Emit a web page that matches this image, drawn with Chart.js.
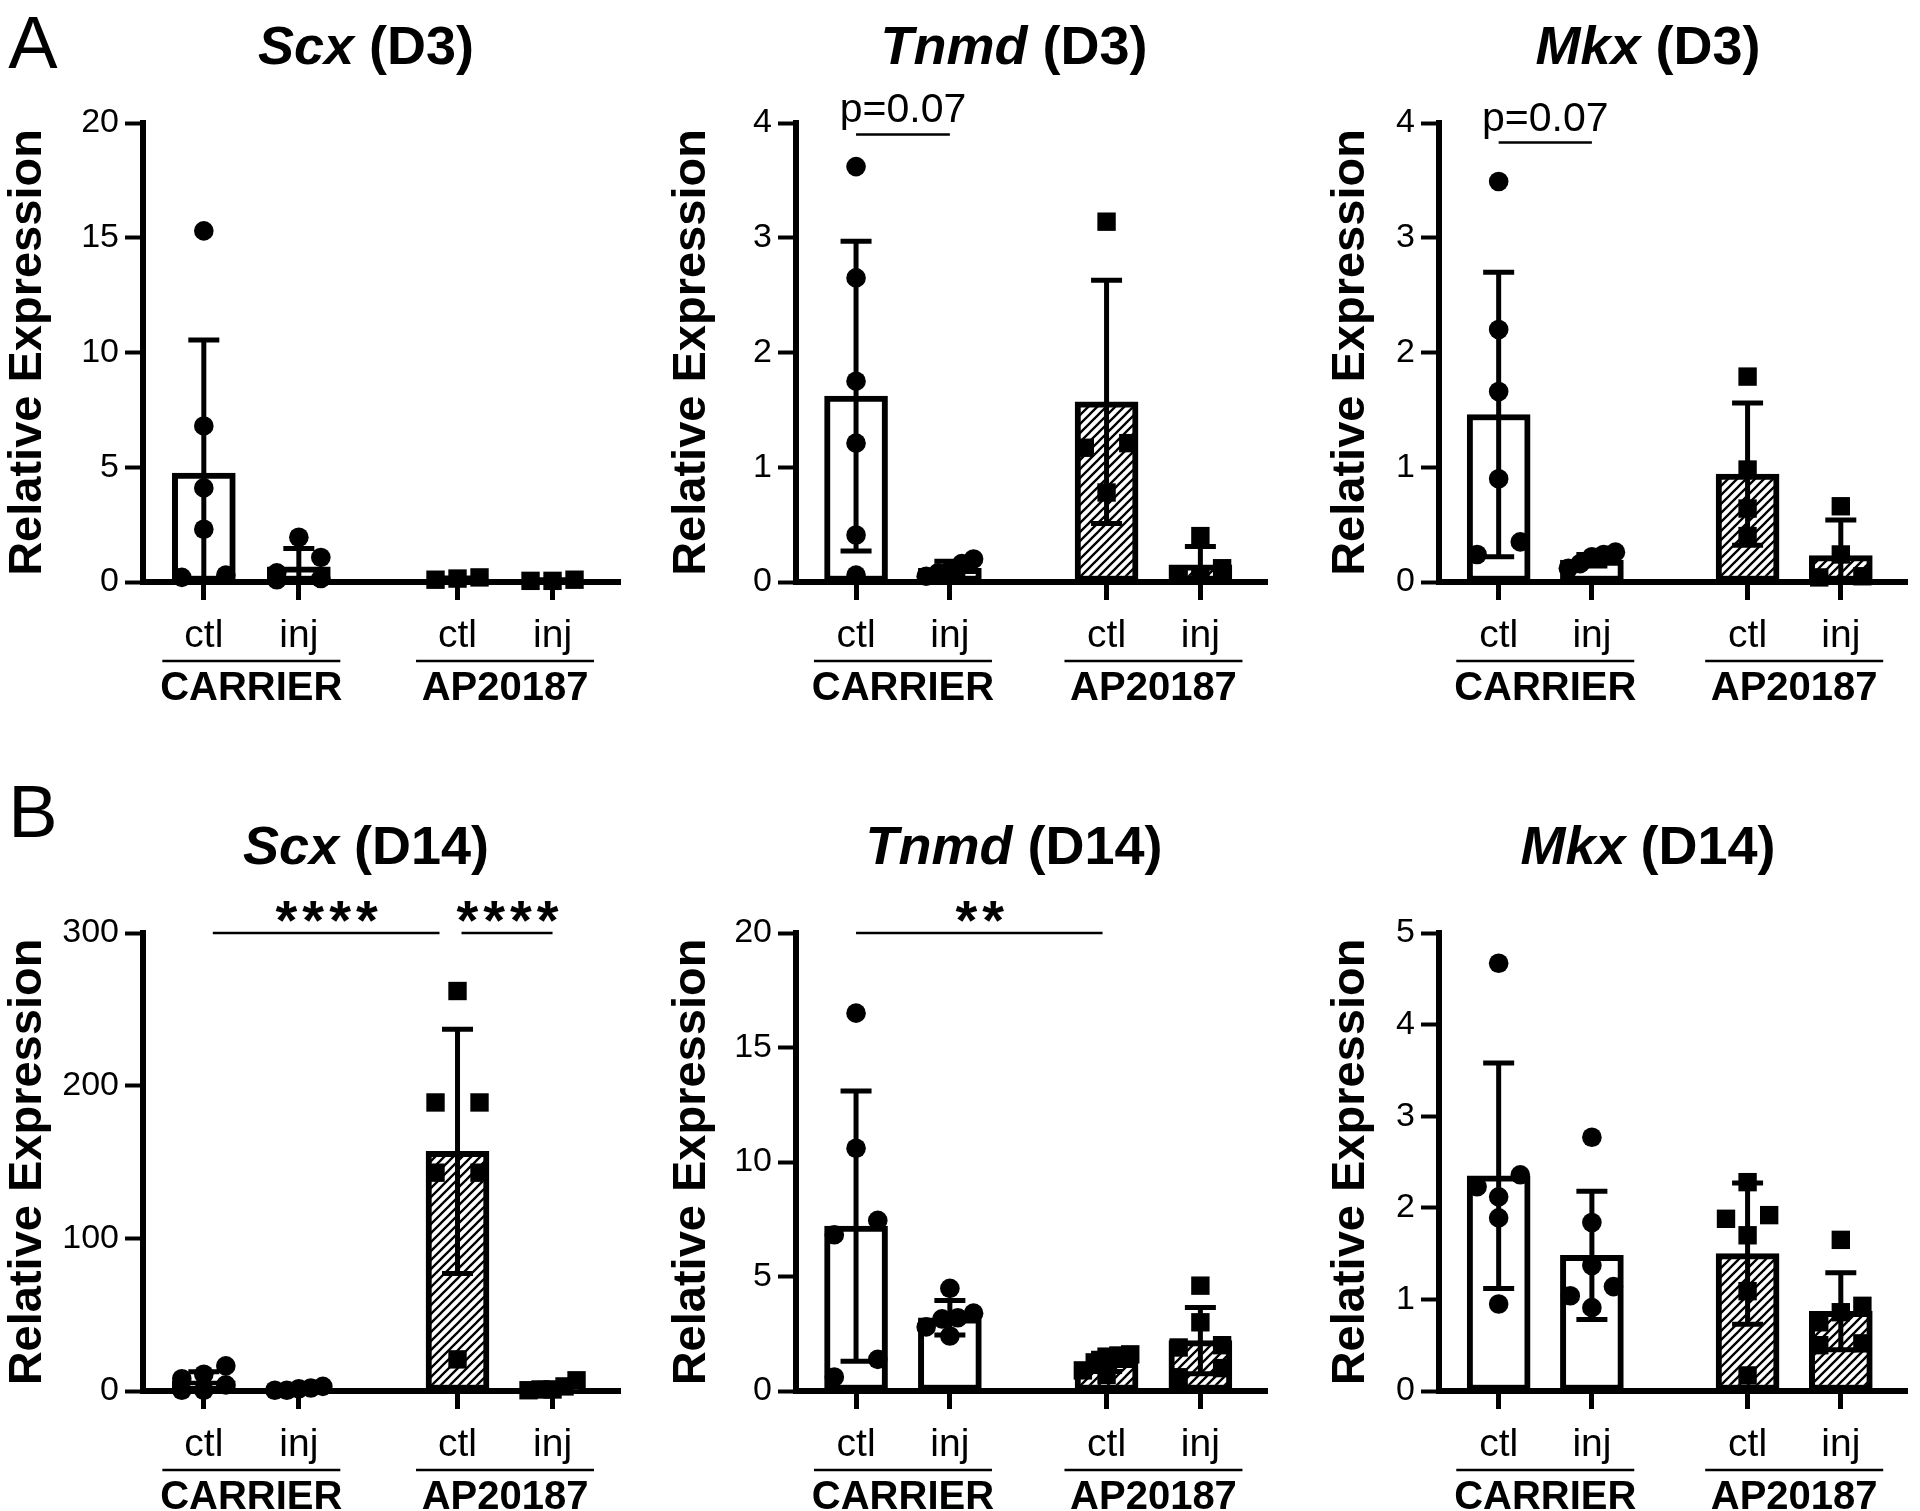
<!DOCTYPE html>
<html>
<head>
<meta charset="utf-8">
<script src="https://cdn.jsdelivr.net/npm/chart.js@4.4.0/dist/chart.umd.min.js"></script>
<style>
  html, body { margin: 0; padding: 0; background: #fff; }
  #fig { position: relative; width: 1920px; height: 1511px; overflow: hidden;
         font-family: "Liberation Sans", Arial, sans-serif; color: #000; }
  #fig canvas { position: absolute; }
  .ttl { position: absolute; font-weight: bold; font-size: 54px; white-space: nowrap;
         transform: translate(-50%, -50%); line-height: 1; }
  .letter { position: absolute; font-size: 74px; transform: translate(-50%, -50%); line-height: 1; }
</style>
</head>
<body>
<div id="fig"></div>
<script>
// ─── DATA ─────────────────────────────────────────────────────────────
const categories = ['ctl', 'inj', 'ctl', 'inj'];
const catX = [1, 2, 3.67, 4.67];
const groupNames = ['CARRIER', 'AP20187'];
const panelLetters = ['A', 'B'];

// Scx D3
const scxD3Ticks = [20, 5];
const scxD3Mean = [4.75, 0.66, 0.12, 0.07];
const scxD3Sd = [5.8, 0.8, 0.05, 0.03];
const scxD3Pts = [
  [15.3, 6.8, 4.1, 2.3, 0.3, 0.2],
  [1.95, 1.07, 0.4, 0.15, 0.1],
  [0.2, 0.15, 0.1],
  [0.1, 0.05, 0.05],
];

// Tnmd D3
const tnmdD3Ticks = [4, 1];
const tnmdD3Mean = [1.62, 0.12, 1.57, 0.15];
const tnmdD3Sd = [1.35, 0.06, 1.06, 0.16];
const tnmdD3Pts = [
  [3.62, 2.65, 1.75, 1.21, 0.41, 0.06],
  [0.2, 0.16, 0.1, 0.08, 0.05],
  [3.14, 1.21, 1.17, 0.78],
  [0.40, 0.12, 0.06, 0.06],
];
const tnmdD3Sig = [{ from: 0, to: 1, y: 3.9, text: 'p=0.07' }];

// Mkx D3
const mkxD3Ticks = [4, 1];
const mkxD3Mean = [1.46, 0.19, 0.94, 0.23];
const mkxD3Sd = [1.24, 0.05, 0.62, 0.31];
const mkxD3Pts = [
  [3.49, 2.20, 1.66, 0.90, 0.35, 0.24],
  [0.26, 0.24, 0.22, 0.16, 0.12],
  [1.79, 0.98, 0.64, 0.40],
  [0.66, 0.24, 0.05, 0.04],
];
const mkxD3Sig = [{ from: 0, to: 1, y: 3.83, text: 'p=0.07' }];

// Scx D14
const scxD14Ticks = [300, 100];
const scxD14Mean = [6.6, 1.5, 157, 2.5];
const scxD14Sd = [6.0, 1.2, 80, 2.5];
const scxD14Pts = [
  [16.5, 11, 8, 4, 0.5, 0.5],
  [3, 2, 1.5, 0.5, 0.5],
  [262, 189, 189, 143, 143, 20.7],
  [7, 3, 1, 1, 0.5],
];
const scxD14Sig = [
  { from: 0, to: 2, y: 300, text: '****', inset: [9, 18] },
  { from: 2, to: 3, y: 300, text: '****', inset: [4, 0] },
];

// Tnmd D14
const tnmdD14Ticks = [20, 5];
const tnmdD14Mean = [7.2, 3.2, 1.25, 2.2];
const tnmdD14Sd = [5.9, 0.75, 0.4, 1.45];
const tnmdD14Pts = [
  [16.5, 10.6, 7.45, 6.82, 1.38, 0.61],
  [4.48, 3.4, 3.2, 3.15, 2.8, 2.4],
  [1.6, 1.55, 1.5, 1.25, 0.9, 0.7],
  [4.6, 3.0, 2.0, 1.9, 1.0, 0.6],
];
const tnmdD14Sig = [{ from: 0, to: 2, y: 20, text: '**', inset: [0, 4] }];

// Mkx D14
const mkxD14Ticks = [5, 1];
const mkxD14Mean = [2.35, 1.48, 1.5, 0.87];
const mkxD14Sd = [1.23, 0.7, 0.77, 0.42];
const mkxD14Pts = [
  [4.67, 2.36, 2.23, 2.12, 1.89, 0.95],
  [2.77, 1.84, 1.37, 1.14, 1.04, 0.91],
  [2.28, 1.92, 1.88, 1.70, 1.09, 0.17],
  [1.65, 0.93, 0.86, 0.75, 0.52, 0.5],
];

const panels = [
  { gene: 'Scx',  day: 'D3',  row: 0, col: 0, ticks: scxD3Ticks,   mean: scxD3Mean,   sd: scxD3Sd,   pts: scxD3Pts,   sig: [] },
  { gene: 'Tnmd', day: 'D3',  row: 0, col: 1, ticks: tnmdD3Ticks,  mean: tnmdD3Mean,  sd: tnmdD3Sd,  pts: tnmdD3Pts,  sig: tnmdD3Sig },
  { gene: 'Mkx',  day: 'D3',  row: 0, col: 2, ticks: mkxD3Ticks,   mean: mkxD3Mean,   sd: mkxD3Sd,   pts: mkxD3Pts,   sig: mkxD3Sig },
  { gene: 'Scx',  day: 'D14', row: 1, col: 0, ticks: scxD14Ticks,  mean: scxD14Mean,  sd: scxD14Sd,  pts: scxD14Pts,  sig: scxD14Sig },
  { gene: 'Tnmd', day: 'D14', row: 1, col: 1, ticks: tnmdD14Ticks, mean: tnmdD14Mean, sd: tnmdD14Sd, pts: tnmdD14Pts, sig: tnmdD14Sig },
  { gene: 'Mkx',  day: 'D14', row: 1, col: 2, ticks: mkxD14Ticks,  mean: mkxD14Mean,  sd: mkxD14Sd,  pts: mkxD14Pts,  sig: [] },
];

// ─── LAYOUT ───────────────────────────────────────────────────────────
const FONT = '"Liberation Sans", Arial, sans-serif';
const COL_LEFT = [0, 640, 1280];
const COL_AXIS = [143, 796, 1439];
const ROW_TOP = [0, 755];
const ROW_H = [755, 756];
const ROW_PLOT_TOP = [123, 933];
const ROW_ZERO = [582, 1391];
const PLOT_W = 477;
const X_MIN = 0.36, X_MAX = 5.38;
const TITLE_DX = [223, 218, 209];
const TITLE_Y = [45, 845];
const LETTER_Y = [43, 812];
const YTITLE_GAP = [116, 104, 88];
const YTITLE_SIZE = 47;
const DOT = 18;       // marker size used for binning, px
const SPREAD = 22;    // half width of a spread row, px

function hatch() {
  const s = 9, c = document.createElement('canvas');
  c.width = c.height = s;
  const g = c.getContext('2d');
  g.fillStyle = '#fff';
  g.fillRect(0, 0, s, s);
  g.strokeStyle = '#000';
  g.lineWidth = 2.3;
  g.beginPath();
  g.moveTo(0, s); g.lineTo(s, 0);
  g.moveTo(-1, 1); g.lineTo(1, -1);
  g.moveTo(s - 1, s + 1); g.lineTo(s + 1, s - 1);
  g.stroke();
  return g.createPattern(c, 'repeat');
}
const HATCH = hatch();

// points that would overlap are put in one row and spread evenly, like Prism does
function swarm(values, cx, pxX, pxY) {
  const order = values.map((v, i) => i).sort((a, b) => values[b] - values[a]);
  const bins = [];
  order.forEach(i => {
    const last = bins[bins.length - 1];
    if (last && (values[last[0]] - values[i]) * pxY < DOT) last.push(i);
    else bins.push([i]);
  });
  const out = new Array(values.length);
  bins.forEach(b => {
    const n = b.length;
    const w = n <= 3 ? SPREAD : SPREAD + 2;
    b.slice().reverse().forEach((i, k) => {
      const dx = n === 1 ? 0 : -w + k * (2 * w / (n - 1));
      out[i] = { x: cx + dx / pxX, y: values[i] };
    });
  });
  return out;
}

const errorBars = {
  id: 'errorBars',
  afterDatasetsDraw(chart, args, opts) {
    const { ctx, scales: { x, y } } = chart;
    const p = opts.panel;
    ctx.save();
    ctx.strokeStyle = '#000';
    ctx.lineWidth = 5;
    ctx.lineCap = 'butt';
    catX.forEach((cx, i) => {
      const px = x.getPixelForValue(cx);
      const hi = p.mean[i] + p.sd[i], lo = p.mean[i] - p.sd[i];
      const yHi = y.getPixelForValue(hi);
      const yLo = y.getPixelForValue(Math.max(lo, 0));
      ctx.beginPath();
      ctx.moveTo(px, yHi); ctx.lineTo(px, yLo);
      ctx.moveTo(px - 15.5, yHi); ctx.lineTo(px + 15.5, yHi);
      if (lo > 0) { ctx.moveTo(px - 15.5, yLo); ctx.lineTo(px + 15.5, yLo); }
      ctx.stroke();
    });
    ctx.restore();
  },
};

const annotations = {
  id: 'annotations',
  afterDraw(chart, args, opts) {
    const { ctx, scales: { x, y } } = chart;
    const p = opts.panel;
    const y0 = y.getPixelForValue(0);
    ctx.save();
    ctx.fillStyle = '#000';
    ctx.strokeStyle = '#000';
    ctx.lineWidth = 2.5;
    // group labels under the axis
    groupNames.forEach((g, gi) => {
      const cx = (x.getPixelForValue(catX[gi * 2]) + x.getPixelForValue(catX[gi * 2 + 1])) / 2;
      ctx.beginPath();
      ctx.moveTo(cx - 89, y0 + 79); ctx.lineTo(cx + 89, y0 + 79);
      ctx.stroke();
      ctx.font = `bold 40px ${FONT}`;
      ctx.textAlign = 'center';
      ctx.textBaseline = 'middle';
      ctx.fillText(g, cx, y0 + 107);
    });
    // significance brackets
    p.sig.forEach(s => {
      const inset = s.inset || [0, 0];
      const x1 = x.getPixelForValue(catX[s.from]) + inset[0];
      const x2 = x.getPixelForValue(catX[s.to]) - inset[1];
      const yp = y.getPixelForValue(s.y);
      ctx.beginPath();
      ctx.moveTo(x1, yp); ctx.lineTo(x2, yp);
      ctx.stroke();
      ctx.textAlign = 'center';
      ctx.textBaseline = 'alphabetic';
      if (s.text.startsWith('*')) {
        ctx.font = `bold 56px ${FONT}`;
        ctx.letterSpacing = '5px';
        ctx.fillText(s.text, (x1 + x2) / 2 + 3, yp + 6);
        ctx.letterSpacing = '0px';
      } else {
        ctx.font = `41px ${FONT}`;
        ctx.fillText(s.text, (x1 + x2) / 2, yp - 12);
      }
    });
    ctx.restore();
  },
};

// ─── BUILD ────────────────────────────────────────────────────────────
const fig = document.getElementById('fig');

panels.forEach(p => {
  const [yMax, yStep] = p.ticks;
  const left = COL_LEFT[p.col], top = ROW_TOP[p.row], h = ROW_H[p.row];
  const axisRel = COL_AXIS[p.col] - left;
  const plotTop = ROW_PLOT_TOP[p.row] - top;
  const zeroRel = ROW_ZERO[p.row] - top;
  const pxX = PLOT_W / (X_MAX - X_MIN);
  const pxY = (zeroRel - plotTop) / yMax;

  const cv = document.createElement('canvas');
  cv.width = 640; cv.height = h;
  cv.style.left = left + 'px'; cv.style.top = top + 'px';
  cv.style.width = '640px'; cv.style.height = h + 'px';
  fig.appendChild(cv);

  const datasets = [{
    type: 'bar',
    data: catX.map((cx, i) => ({ x: cx, y: p.mean[i] })),
    backgroundColor: catX.map((cx, i) => i < 2 ? '#fff' : HATCH),
    borderColor: '#000',
    borderWidth: 6,
    borderSkipped: false,
    barThickness: 63,
    order: 2,
  }];
  p.pts.forEach((vals, i) => {
    datasets.push({
      type: 'scatter',
      data: swarm(vals, catX[i], pxX, pxY),
      pointStyle: i < 2 ? 'circle' : 'rect',
      pointRadius: i < 2 ? 9.8 : 13,
      backgroundColor: '#000',
      borderWidth: 0,
      clip: false,
      order: 1,
    });
  });

  const lh = YTITLE_SIZE * 1.2;
  new Chart(cv, {
    type: 'bar',
    data: { datasets },
    options: {
      responsive: false,
      animation: false,
      events: [],
      layout: { padding: { left: 0, right: 640 - axisRel - PLOT_W, top: plotTop, bottom: 0 } },
      plugins: {
        legend: { display: false },
        tooltip: { enabled: false },
        errorBars: { panel: p },
        annotations: { panel: p },
      },
      scales: {
        x: {
          type: 'linear',
          min: X_MIN, max: X_MAX,
          offset: false,
          afterBuildTicks: s => { s.ticks = catX.map(v => ({ value: v })); },
          afterFit: s => { s.height = h - zeroRel; },
          ticks: {
            autoSkip: false, maxRotation: 0, padding: 13,
            color: '#000', font: { family: FONT, size: 39 },
            callback: (v, i) => categories[i],
          },
          grid: { offset: false, drawOnChartArea: false, tickLength: 18, tickWidth: 5, tickColor: '#000' },
          border: { display: true, color: '#000', width: 6 },
        },
        y: {
          min: 0, max: yMax,
          afterFit: s => { s.width = axisRel; },
          ticks: { stepSize: yStep, padding: 6, color: '#000', font: { family: FONT, size: 34 } },
          grid: { drawOnChartArea: false, tickLength: 18, tickWidth: 4, tickColor: '#000' },
          border: { display: true, color: '#000', width: 6 },
          title: {
            display: true,
            text: 'Relative Expression',
            color: '#000',
            font: { family: FONT, size: YTITLE_SIZE, weight: 'bold' },
            padding: { top: Math.max(axisRel - YTITLE_GAP[p.col] - lh / 2, 0), bottom: 0 },
          },
        },
      },
    },
    plugins: [errorBars, annotations],
  });

  const t = document.createElement('div');
  t.className = 'ttl';
  t.innerHTML = `<i>${p.gene}</i> (${p.day})`;
  t.style.left = (COL_AXIS[p.col] + TITLE_DX[p.col]) + 'px';
  t.style.top = TITLE_Y[p.row] + 'px';
  fig.appendChild(t);
});

panelLetters.forEach((l, i) => {
  const d = document.createElement('div');
  d.className = 'letter';
  d.textContent = l;
  d.style.left = '33px';
  d.style.top = LETTER_Y[i] + 'px';
  fig.appendChild(d);
});
</script>
</body>
</html>
